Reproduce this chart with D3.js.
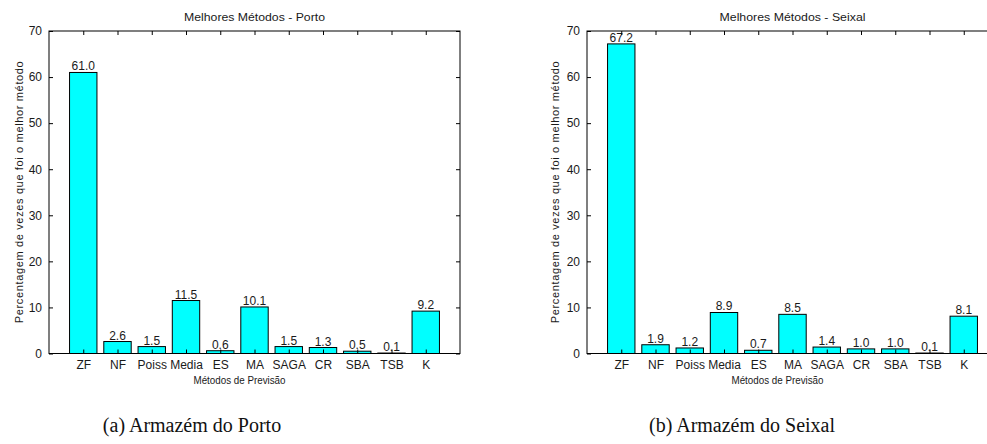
<!DOCTYPE html>
<html><head><meta charset="utf-8">
<script src="https://cdn.jsdelivr.net/npm/d3@7"></script>
<style>body{margin:0;background:#fff;}svg{display:block;}</style>
</head><body>
<script>
const categories = ["ZF","NF","Poiss","Media","ES","MA","SAGA","CR","SBA","TSB","K"];
const portoValues = [61.0,2.6,1.5,11.5,0.6,10.1,1.5,1.3,0.5,0.1,9.2];
const seixalValues = [67.2,1.9,1.2,8.9,0.7,8.5,1.4,1.0,1.0,0.1,8.1];
const yTicks = [0,10,20,30,40,50,60,70];
const titles = ["Melhores Métodos - Porto","Melhores Métodos - Seixal"];
const captions = ["(a) Armazém do Porto","(b) Armazém do Seixal"];
const xLabel = "Métodos de Previsão";
const yLabel = "Percentagem de vezes que foi o melhor método";

(function(){
const W = 987, H = 444;
const svg = d3.select("body").append("svg").attr("width", W).attr("height", H);
const font = "'Liberation Sans', Arial, sans-serif";
const ink = "#1a1a1a";

const panels = [
  {x0: 49, values: portoValues, title: titles[0], titleLen: 141, caption: captions[0], capX: 192, ylx: 19},
  {x0: 587, values: seixalValues, title: titles[1], titleLen: 146, caption: captions[1], capX: 742, ylx: 555}
];
const yTop = 31, yBot = 353.5, pw = 411;

panels.forEach(p => {
  const g = svg.append("g");
  const x = d3.scaleLinear().domain([0, 12]).range([p.x0, p.x0 + pw]);
  const y = d3.scaleLinear().domain([0, 70]).range([yBot, yTop]);
  const bw = (x(1) - x(0)) * 0.8;
  const idx = categories.map((c, i) => i + 1);

  g.selectAll("rect.bar").data(p.values).join("rect")
    .attr("class", "bar")
    .attr("x", (d, i) => x(i + 1) - bw / 2)
    .attr("y", d => y(d))
    .attr("width", bw)
    .attr("height", d => y(0) - y(d))
    .attr("fill", "#00ffff").attr("stroke", "#000").attr("stroke-width", 1);

  g.selectAll("text.val").data(p.values).join("text")
    .attr("class", "val")
    .attr("x", (d, i) => x(i + 1))
    .attr("y", d => y(d) - 2)
    .attr("text-anchor", "middle")
    .attr("font-family", font).attr("font-size", 12).attr("fill", ink)
    .text(d => d.toFixed(1));

  const axL = d3.axisLeft(y).tickValues(yTicks).tickSize(-4).tickPadding(7).tickFormat(d3.format("d"));
  g.append("g").attr("transform", `translate(${p.x0},0)`).call(axL);
  const axR = d3.axisRight(y).tickValues(yTicks).tickSize(-4).tickFormat("");
  g.append("g").attr("transform", `translate(${p.x0 + pw},0)`).call(axR);
  const axB = d3.axisBottom(x).tickValues(idx).tickSize(-4).tickPadding(7).tickFormat(d => categories[d - 1]);
  g.append("g").attr("transform", `translate(0,${yBot})`).call(axB);
  const axT = d3.axisTop(x).tickValues(idx).tickSize(-4).tickFormat("");
  g.append("g").attr("transform", `translate(0,${yTop})`).call(axT);
  g.selectAll(".domain").remove();
  g.selectAll(".tick line").attr("stroke", "#000");
  g.selectAll(".tick text").attr("font-family", font).attr("font-size", 12).attr("fill", ink);
  g.append("rect").attr("x", p.x0).attr("y", yTop).attr("width", pw).attr("height", yBot - yTop)
    .attr("fill", "none").attr("stroke", "#000").attr("stroke-width", 1);

  g.append("text").attr("x", p.x0 + pw / 2).attr("y", 21)
    .attr("text-anchor", "middle").attr("font-family", font).attr("font-size", 11).attr("fill", ink)
    .attr("textLength", p.titleLen).attr("lengthAdjust", "spacingAndGlyphs")
    .text(p.title);
  g.append("text").attr("x", p.x0 + pw / 2 - 15).attr("y", 384)
    .attr("text-anchor", "middle").attr("font-family", font).attr("font-size", 10.5).attr("fill", ink)
    .attr("textLength", 92).attr("lengthAdjust", "spacingAndGlyphs")
    .text(xLabel);
  g.append("text").attr("transform", `translate(${p.ylx + 4},${(yTop + yBot) / 2}) rotate(-90)`)
    .attr("text-anchor", "middle").attr("font-family", font).attr("font-size", 11).attr("fill", ink)
    .attr("textLength", 262).attr("lengthAdjust", "spacing")
    .text(yLabel);
  g.append("text").attr("x", p.capX).attr("y", 432)
    .attr("text-anchor", "middle").attr("font-family", "'Liberation Serif', 'DejaVu Serif', serif")
    .attr("font-size", 20).attr("fill", "#111")
    .text(p.caption);
});
})();
</script>
</body></html>
